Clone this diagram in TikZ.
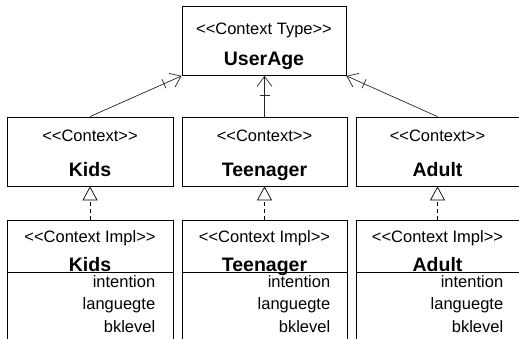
\documentclass[tikz,border=0pt]{standalone}
\usepackage{fontspec}
\setmainfont{Liberation Sans}[Ligatures=TeXOff]
\usetikzlibrary{arrows.meta}
\usetikzlibrary{positioning}

\newcommand{\stereotype}[1]{<<#1>>}

\tikzset{
  box/.style={draw, line width=0.8pt, inner sep=0pt, minimum height=69pt},
  stereo/.style={inner sep=0pt, anchor=base, font=\fontsize{16.5}{19}\selectfont},
  title/.style={inner sep=0pt, anchor=base, font=\fontsize{19.5}{22}\selectfont\bfseries},
  attrs/.style={inner sep=0pt, anchor=north east, align=right, font=\fontsize{16.5}{22.3}\selectfont},
  assoc/.style={line width=0.7pt, draw=black!85, -{Bar[width=10pt,sep=8pt] Straight Barb[length=10pt,width=15pt]}},
  realize/.style={line width=0.7pt, dash pattern=on 4pt off 3pt, -{Triangle[open,length=14pt,width=15pt]}}
}

\begin{document}
\begin{tikzpicture}[x=1pt, y=-1pt]
    \clip (0,0) rectangle (519,338);

    % context type
    \node[box, minimum width=164pt] (userage) at (264,41) {};
    \node[stereo] (userage-st) at ([yshift=-28pt]userage.north) {\stereotype{Context Type}};
    \node[title] (userage-nm) at ([yshift=10pt]userage.south) {UserAge};

    % contexts
    \node[box, minimum width=166pt] (kids) at (90,151.5) {};
    \node[stereo] (kids-st) at ([yshift=-24.7pt]kids.north) {\stereotype{Context}};
    \node[title] (kids-nm) at ([yshift=10.3pt]kids.south) {Kids};

    \node[box, minimum width=165pt] (teen) at (264.5,151.5) {};
    \node[stereo] (teen-st) at ([yshift=-24.7pt]teen.north) {\stereotype{Context}};
    \node[title] (teen-nm) at ([yshift=10.3pt]teen.south) {Teenager};

    \node[box, minimum width=163pt] (adult) at (437.5,151.5) {};
    \node[stereo] (adult-st) at ([yshift=-24.7pt]adult.north) {\stereotype{Context}};
    \node[title] (adult-nm) at ([yshift=10.3pt]adult.south) {Adult};

    % implementations
    \node[box, minimum width=166pt, minimum height=52pt] (kidsimpl) at (90,246) {};
    \node[box, minimum width=166pt, minimum height=73pt, below=0pt of kidsimpl] (kidsattr) {};
    \node[stereo] (kidsimpl-st) at ([yshift=-22.7pt]kidsimpl.north) {\stereotype{Context Impl}};
    \node[title] (kidsimpl-nm) at ([yshift=1pt]kidsimpl.south) {Kids};
    \node[attrs] (kidsattr-tx) at ([xshift=-18pt, yshift=-3pt]kidsattr.north east) {intention\\languegte\\bklevel};

    \node[box, minimum width=165pt, minimum height=52pt] (teenimpl) at (264.5,246) {};
    \node[box, minimum width=165pt, minimum height=73pt, below=0pt of teenimpl] (teenattr) {};
    \node[stereo] (teenimpl-st) at ([yshift=-22.7pt]teenimpl.north) {\stereotype{Context Impl}};
    \node[title] (teenimpl-nm) at ([yshift=1pt]teenimpl.south) {Teenager};
    \node[attrs] (teenattr-tx) at ([xshift=-17pt, yshift=-3pt]teenattr.north east) {intention\\languegte\\bklevel};

    \node[box, minimum width=163pt, minimum height=52pt] (adultimpl) at (437.5,246) {};
    \node[box, minimum width=163pt, minimum height=73pt, below=0pt of adultimpl] (adultattr) {};
    \node[stereo] (adultimpl-st) at ([yshift=-22.7pt]adultimpl.north) {\stereotype{Context Impl}};
    \node[title] (adultimpl-nm) at ([yshift=1pt]adultimpl.south) {Adult};
    \node[attrs] (adultattr-tx) at ([xshift=-16pt, yshift=-3pt]adultattr.north east) {intention\\languegte\\bklevel};

    % connectors
    \draw[assoc] (kids.north) -- (userage.south west);
    \draw[assoc] (teen.north) -- (teen.north |- userage.south);
    \draw[assoc] (adult.north) -- (userage.south east);

    \draw[realize] (kidsimpl.north) -- (kids.south);
    \draw[realize] (teenimpl.north) -- (teen.south);
    \draw[realize] (adultimpl.north) -- (adult.south);
\end{tikzpicture}
\end{document}
